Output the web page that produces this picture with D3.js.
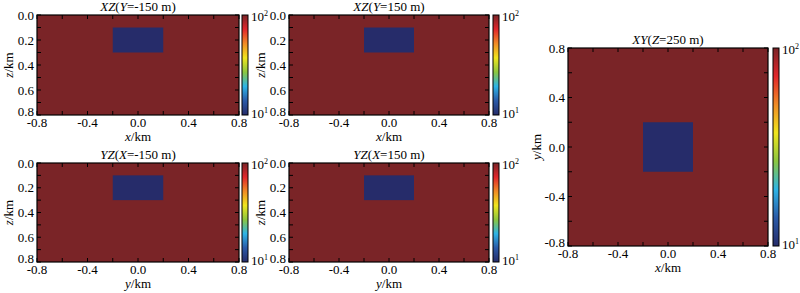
<!DOCTYPE html>
<html>
<head>
<meta charset="utf-8">
<script src="https://cdn.jsdelivr.net/npm/d3@7"></script>
<style>
  body { margin: 0; background: #fff; }
</style>
</head>
<body>
<div id="chart"></div>
<script>
// Panel definitions (title parts, axis names)
const panelTitles = [
    ["XZ", "Y", "=-150 m"],
    ["XZ", "Y", "=150 m"],
    ["YZ", "X", "=-150 m"],
    ["YZ", "X", "=150 m"],
    ["XY", "Z", "=250 m"]
];
const horizLabels = ["x", "x", "y", "y", "x"];
const vertLabels = ["z", "z", "z", "z", "y"];

// Resistivity model: background and anomalous block (ohm-m)
const backgroundRho = 100;
const blockRho = 10;
// Block extents in km
const blockX = [-0.2, 0.2];
const blockY = [-0.2, 0.2];
const blockZ = [0.1, 0.3];

const horizTicks = [-0.8, -0.4, 0.0, 0.4, 0.8];
const depthTicks = [0.0, 0.2, 0.4, 0.6, 0.8];
const xyTicks = [-0.8, -0.4, 0.0, 0.4, 0.8];
const colorbarLabels = ["2", "1"]; // exponents for 10^2 (top), 10^1 (bottom)

// Colormap stops (jet-like, as printed)
const cmapStops = ["#262c6a", "#2a5aa8", "#2db4e6", "#8cc63f", "#efe51d", "#f18b25", "#e1262b", "#7a2427"];

const FONT = "'Liberation Serif', 'Times New Roman', 'DejaVu Serif', serif";
const width = 800, height = 293;
const svg = d3.select("#chart").append("svg")
    .attr("width", width)
    .attr("height", height)
    .attr("font-family", FONT);

const cmap = d3.scaleLinear()
    .domain(d3.range(cmapStops.length).map(i => i / (cmapStops.length - 1)))
    .range(cmapStops);
const logT = d3.scaleLog().domain([blockRho, backgroundRho]).range([0, 1]);
const rhoColor = v => cmap(logT(v));

// Gradient for colorbars
const grad = svg.append("defs").append("linearGradient")
    .attr("id", "jet").attr("x1", 0).attr("y1", 1).attr("x2", 0).attr("y2", 0);
cmapStops.forEach((c, i) => {
    grad.append("stop").attr("offset", i / (cmapStops.length - 1)).attr("stop-color", c);
});

// Layout of each panel: plot box, colorbar x
const layouts = [
    { left: 37, top: 15, w: 202, h: 100, cbx: 242 },
    { left: 289, top: 15, w: 200, h: 100, cbx: 493 },
    { left: 37, top: 163, w: 202, h: 99, cbx: 242 },
    { left: 289, top: 163, w: 200, h: 99, cbx: 493 },
    { left: 568, top: 48, w: 200, h: 198, cbx: 773 }
];

function titleText(sel, parts) {
    const t = sel.append("text").attr("text-anchor", "middle").attr("font-family", FONT).style("font-size", "13px");
    t.append("tspan").style("font-style", "italic").text(parts[0]);
    t.append("tspan").text("(");
    t.append("tspan").style("font-style", "italic").text(parts[1]);
    t.append("tspan").text(parts[2] + ")");
    return t;
}

function axisLabel(sel, name) {
    const t = sel.append("text").attr("text-anchor", "middle").attr("font-family", FONT).style("font-size", "13px");
    t.append("tspan").style("font-style", "italic").text(name);
    t.append("tspan").text("/km");
    return t;
}

const fmt = v => d3.format(".1f")(v).replace("−", "-");

layouts.forEach((L, i) => {
    const isXY = i === 4;
    const g = svg.append("g").attr("transform", `translate(${L.left},${L.top})`);

    const xs = d3.scaleLinear().domain([-0.8, 0.8]).range([0, L.w]);
    const ys = isXY
        ? d3.scaleLinear().domain([-0.8, 0.8]).range([L.h, 0])
        : d3.scaleLinear().domain([0, 0.8]).range([0, L.h]);

    // background
    g.append("rect")
        .attr("x", 0).attr("y", 0).attr("width", L.w).attr("height", L.h)
        .attr("fill", rhoColor(backgroundRho));

    // anomalous block
    const bx = isXY ? blockX : (horizLabels[i] === "x" ? blockX : blockY);
    const bv = isXY ? blockY : blockZ;
    const yA = ys(bv[0]), yB = ys(bv[1]);
    g.append("rect")
        .attr("x", xs(bx[0]))
        .attr("y", Math.min(yA, yB))
        .attr("width", xs(bx[1]) - xs(bx[0]))
        .attr("height", Math.abs(yB - yA))
        .attr("fill", rhoColor(blockRho));

    // inward ticks on all four sides
    const xTickVals = d3.range(-0.8, 0.801, 0.2);
    const yTickVals = isXY ? d3.range(-0.8, 0.801, 0.2) : d3.range(0, 0.801, 0.1);
    const tl = 4;
    const tg = g.append("g").attr("stroke", "#000").attr("stroke-width", 1);
    xTickVals.forEach(v => {
        tg.append("line").attr("x1", xs(v)).attr("x2", xs(v)).attr("y1", 0).attr("y2", tl);
        tg.append("line").attr("x1", xs(v)).attr("x2", xs(v)).attr("y1", L.h).attr("y2", L.h - tl);
    });
    yTickVals.forEach(v => {
        tg.append("line").attr("x1", 0).attr("x2", tl).attr("y1", ys(v)).attr("y2", ys(v));
        tg.append("line").attr("x1", L.w).attr("x2", L.w - tl).attr("y1", ys(v)).attr("y2", ys(v));
    });

    // frame
    g.append("rect")
        .attr("x", 0).attr("y", 0).attr("width", L.w).attr("height", L.h)
        .attr("fill", "none").attr("stroke", "#000").attr("stroke-width", 1.2);

    // tick labels
    horizTicks.forEach(v => {
        g.append("text")
            .attr("x", xs(v)).attr("y", L.h + 12)
            .attr("text-anchor", "middle")
            .style("font-size", "13px")
            .text(fmt(v));
    });
    const vTicks = isXY ? xyTicks : depthTicks;
    vTicks.forEach((v, k) => {
        const last = k === vTicks.length - 1 && !isXY;
        const first = k === 0 && isXY;
        g.append("text")
            .attr("x", -3).attr("y", ys(v) + (last || first ? 1 : 4.5))
            .attr("text-anchor", "end")
            .style("font-size", "13px")
            .text(fmt(v));
    });

    // axis labels
    axisLabel(g, horizLabels[i]).attr("x", L.w / 2).attr("y", L.h + 26);
    axisLabel(g, vertLabels[i])
        .attr("transform", `translate(${isXY ? -27 : -24},${L.h / 2}) rotate(-90)`)
        .attr("y", 0);

    // title
    titleText(g, panelTitles[i]).attr("x", L.w / 2).attr("y", -4);

    // colorbar
    const cb = svg.append("g").attr("transform", `translate(${L.cbx},${L.top})`);
    cb.append("rect")
        .attr("width", 6).attr("height", L.h)
        .attr("fill", "url(#jet)")
        .attr("stroke", "#000").attr("stroke-width", 1);
    [[0, colorbarLabels[0]], [L.h, colorbarLabels[1]]].forEach(([yy, ex]) => {
        const t = cb.append("text")
            .attr("x", 9).attr("y", yy + (yy === 0 ? 6 : 3))
            .style("font-size", "13px");
        t.append("tspan").text("10");
        t.append("tspan").attr("dy", -5).style("font-size", "8px").text(ex);
    });
});
</script>
</body>
</html>
